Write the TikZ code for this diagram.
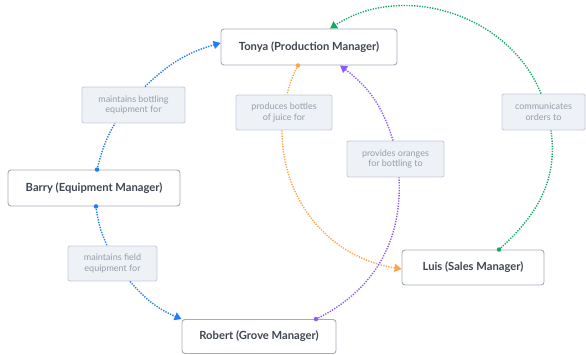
\documentclass[tikz,border=0pt]{standalone}
\usepackage{fontspec}
\setmainfont{Lato}
\usetikzlibrary{calc,arrows.meta}
\definecolor{cblue}{HTML}{1F7BFF}
\definecolor{corange}{HTML}{FFA34A}
\definecolor{cpurple}{HTML}{9058FF}
\definecolor{cgreen}{HTML}{16A865}
\definecolor{boxline}{HTML}{A3ADBA}
\definecolor{boxtext}{HTML}{3F4650}
\definecolor{lblfill}{HTML}{EEF1F6}
\definecolor{lblline}{HTML}{C6CEDA}
\definecolor{lbltext}{HTML}{959EAA}
\tikzset{
  person/.style={draw=boxline, line width=0.9pt, rounded corners=3pt, fill=white,
    inner sep=0pt, font=\bfseries\fontsize{11.2}{13}\selectfont, text=boxtext},
  lbl/.style={draw=lblline, line width=0.9pt, rounded corners=2pt, fill=lblfill,
    inner sep=0pt, align=center, font=\fontsize{9}{10.5}\selectfont, text=lbltext},
  link/.style={line width=1.4pt, dash pattern=on 1.3pt off 1.3pt},
  tip/.style={-{Triangle[length=7pt,width=8pt]}},
  dotstart/.style={circle, inner sep=0pt, minimum size=4.5pt}
}
\begin{document}
\begin{tikzpicture}[x=1pt,y=1pt]
\useasboundingbox (0,0) rectangle (586,354);
% people
\node[person, minimum width=176pt, minimum height=36pt] (tonya) at (309,307) {Tonya (Production Manager)};
\node[person, minimum width=172pt, minimum height=36pt] (barry) at (94,166) {Barry (Equipment Manager)};
\node[person, minimum width=154pt, minimum height=34pt] (robert) at (259,17.5) {Robert (Grove Manager)};
\node[person, minimum width=142pt, minimum height=35pt] (luis) at (473,86.5) {Luis (Sales Manager)};
% labels
\node[lbl, minimum width=103pt, minimum height=36pt] (l1) at (133.5,249) {maintains bottling\\equipment for};
\node[lbl, minimum width=96pt, minimum height=35pt] (l2) at (284,241.5) {produces bottles\\of juice for};
\node[lbl, minimum width=97pt, minimum height=36pt] (l3) at (395.5,195) {provides oranges\\for bottling to};
\node[lbl, minimum width=83pt, minimum height=36pt] (l4) at (543.5,242) {communicates\\orders to};
\node[lbl, minimum width=89pt, minimum height=35pt] (l5) at (112.5,90.5) {maintains field\\equipment for};
% attachment points
\coordinate (b1s) at ($(barry.north)+(3,0)$);
\coordinate (b1a) at ($(l1.south)+(-18.5,0)$);
\coordinate (b1b) at ($(l1.north)+(11.5,0)$);
\coordinate (b1e) at ($(tonya.west)+(0,4)$);
\coordinate (b2s) at ($(barry.south)+(2,0)$);
\coordinate (b2a) at ($(l5.north)+(-5.5,0)$);
\coordinate (b2b) at ($(l5.south)+(17.5,0)$);
\coordinate (b2e) at (robert.north west);
\coordinate (os) at ($(tonya.south)+(-11,0)$);
\coordinate (oa) at ($(l2.north)+(3,0)$);
\coordinate (ob) at ($(l2.south)+(-2,0)$);
\coordinate (oe) at ($(luis.west)+(0,-1.5)$);
\coordinate (ps) at ($(robert.north)+(57,0)$);
\coordinate (pa) at ($(l3.south)+(3.5,0)$);
\coordinate (pb) at ($(l3.north)+(-2.5,0)$);
\coordinate (pe) at ($(tonya.south)+(31,0)$);
\coordinate (gs) at ($(luis.north)+(26,0)$);
\coordinate (ga) at ($(l4.south)+(7.5,0)$);
\coordinate (gb) at ($(l4.north)+(-2.5,0)$);
\coordinate (ge) at ($(tonya.north)+(21,0)$);
% connectors
\draw[link, cblue] (b1s) to[out=75,in=239] (b1a);
\draw[link, cblue, tip] (b1b) to[out=44,in=196] (b1e);
\draw[link, cblue] (b2s) to[out=-83,in=114] (b2a);
\draw[link, cblue, tip] (b2b) to[out=-49,in=157] (b2e);
\draw[link, corange] (os) to[out=242,in=76] (oa);
\draw[link, corange, tip] (ob) to[out=-90,in=171] (oe);
\draw[link, cpurple] (ps) to[out=26,in=-87] (pa);
\draw[link, cpurple, tip] (pb) to[out=107,in=-37] (pe);
\draw[link, cgreen] (gs) to[out=42,in=-82] (ga);
\draw[link, cgreen, tip] (gb) to[out=112,in=33] (ge);
% start dots
\node[dotstart, fill=cblue] (d1) at (b1s) {};
\node[dotstart, fill=cblue] (d2) at (b2s) {};
\node[dotstart, fill=corange] (d3) at (os) {};
\node[dotstart, fill=cpurple] (d4) at (ps) {};
\node[dotstart, fill=cgreen] (d5) at (gs) {};
\end{tikzpicture}
\end{document}
